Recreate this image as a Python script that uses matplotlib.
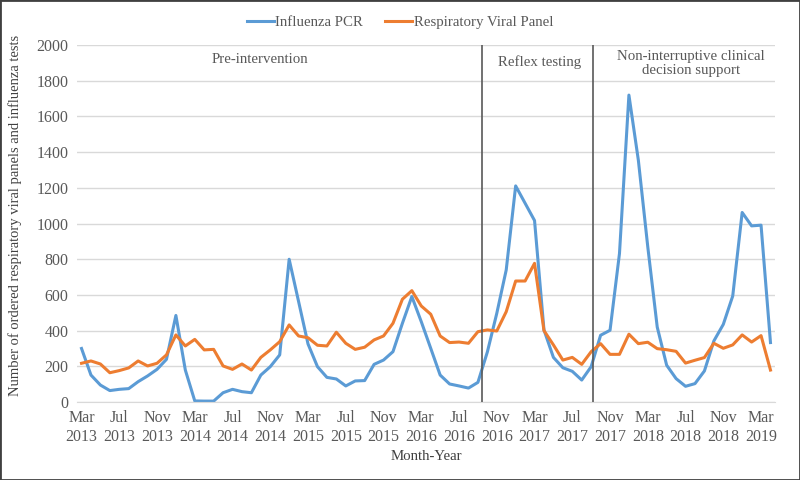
import numpy as np
import matplotlib.pyplot as plt
from matplotlib.patches import Rectangle

# months from Mar 2013 to Apr 2019
months = ['Mar', 'Apr', 'May', 'Jun', 'Jul', 'Aug', 'Sep', 'Oct', 'Nov', 'Dec', 'Jan', 'Feb']
start_year = 2013

influenza_pcr = [300, 151, 95, 64, 71, 75, 114, 146, 183, 239, 485, 179,
                 6, 5, 5, 52, 71, 58, 52, 151, 198, 264, 800, 563,
                 325, 198, 138, 129, 90, 118, 120, 211, 235, 282, 441, 591,
                 450, 301, 151, 101, 90, 78, 110, 280, 497, 740, 1211, 1114,
                 1017, 404, 250, 192, 172, 123, 198, 374, 402, 832, 1720, 1355,
                 869, 420, 206, 131, 88, 103, 174, 342, 435, 594, 1062, 987,
                 991, 333]

viral_panel = [217, 230, 213, 164, 176, 191, 230, 202, 217, 264, 376, 314,
               351, 292, 295, 202, 183, 213, 179, 250, 292, 338, 432, 370,
               360, 318, 314, 391, 329, 295, 307, 348, 370, 441, 576, 624,
               538, 492, 370, 333, 336, 329, 394, 404, 398, 506, 678, 678,
               777, 400, 320, 235, 250, 211, 282, 327, 267, 267, 380, 327,
               335, 299, 293, 284, 218, 234, 249, 329, 301, 320, 376, 336,
               372, 179]

# intervention boundaries (in month index) and phase labels
phase_lines = [42.4, 54.2]
phase_labels = ['Pre-intervention', 'Reflex testing', 'Non-interruptive clinical\ndecision support']
phase_label_x = [18.9, 48.5, 64.6]
phase_label_y = [1920, 1905, 1899]

n = len(influenza_pcr)
x = np.arange(n)
labels = []
for i in range(n):
    m = months[i % 12]
    yr = start_year + (i + 2) // 12
    labels.append(m + '\n' + str(yr))

plt.rcParams['font.family'] = ['Liberation Serif', 'DejaVu Serif']
grey = '#595959'
fs = 10.7

fig = plt.figure(figsize=(8, 4.8), dpi=100)
ax = fig.add_axes([0.096, 0.1625, 0.873, 0.7435])

ax.plot(x, influenza_pcr, color='#5B9BD5', lw=2.2, label='Influenza PCR')
ax.plot(x, viral_panel, color='#ED7D31', lw=2.2, label='Respiratory Viral Panel')

for xv in phase_lines:
    ax.axvline(xv, color='#595959', lw=1.2, zorder=3)

for lx, ly, txt in zip(phase_label_x, phase_label_y, phase_labels):
    ax.text(lx, ly, txt, ha='center', va='center', fontsize=fs, color=grey, linespacing=1.1)

ax.set_xlim(-0.5, n - 0.5)
ax.set_ylim(0, 2000)
ax.set_yticks(np.arange(0, 2001, 200))
ax.set_xticks(x[::4])
ax.set_xticklabels(labels[::4])
ax.tick_params(length=0, labelsize=11.5, colors=grey, pad=6)
ax.grid(axis='y', color='#D9D9D9', lw=1)
ax.set_axisbelow(True)
for s in ['top', 'right', 'left']:
    ax.spines[s].set_visible(False)
ax.spines['bottom'].set_color('#D9D9D9')

ax.set_xlabel('Month-Year', fontsize=fs, color='#404040', labelpad=4)
ax.set_ylabel('Number of ordered respiratory viral panels and influenza tests', fontsize=10.5,
              color='#404040')
ax.yaxis.set_label_coords(-0.078, 0.524)

fig.legend(loc='upper center', bbox_to_anchor=(0.5, 0.995), ncol=2, frameon=False, fontsize=fs,
           handlelength=1.8, handletextpad=0.1, columnspacing=1.5, labelcolor=grey)

fig.patches.append(Rectangle((0, 0), 1, 1, transform=fig.transFigure, fill=False,
                             edgecolor='#404040', lw=2, zorder=10))

fig.savefig('out.png', dpi=100)
